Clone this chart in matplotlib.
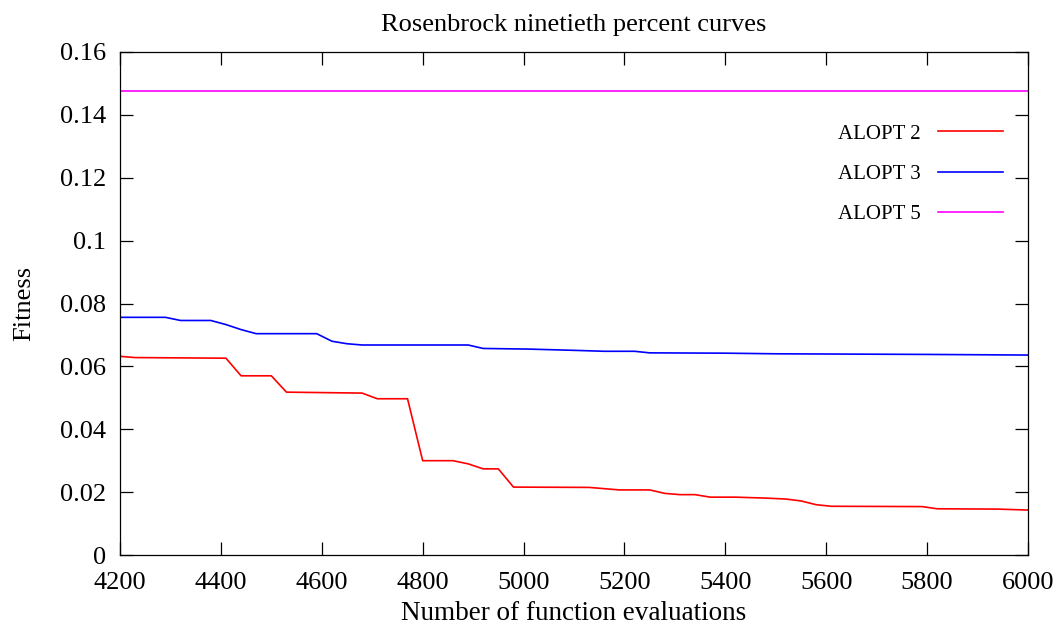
import matplotlib
matplotlib.use("Agg")
import matplotlib.pyplot as plt

# ALOPT 2 (red)
x_alopt2 = [4200, 4230, 4410, 4440, 4500, 4530, 4680, 4710, 4770, 4800, 4860, 4890,
            4920, 4950, 4980, 5130, 5190, 5250, 5280, 5310, 5340, 5370, 5420, 5480,
            5520, 5550, 5580, 5610, 5790, 5820, 5940, 6000]
y_alopt2 = [0.0632, 0.0628, 0.0626, 0.0570, 0.0570, 0.0518, 0.0515, 0.0497, 0.0497,
            0.0300, 0.0300, 0.0290, 0.0274, 0.0274, 0.0216, 0.0215, 0.0207, 0.0207,
            0.0196, 0.0192, 0.0192, 0.0184, 0.0184, 0.0181, 0.0178, 0.0172, 0.0160,
            0.0155, 0.0154, 0.0147, 0.0146, 0.0143]

# ALOPT 3 (blue)
x_alopt3 = [4200, 4290, 4320, 4380, 4410, 4440, 4470, 4590, 4620, 4650, 4680, 4890,
            4920, 5010, 5100, 5160, 5220, 5250, 5400, 5500, 5800, 6000]
y_alopt3 = [0.0756, 0.0756, 0.0746, 0.0746, 0.0733, 0.0717, 0.0704, 0.0704, 0.0680,
            0.0672, 0.0668, 0.0668, 0.0657, 0.0655, 0.0651, 0.0648, 0.0648, 0.0643,
            0.0642, 0.0640, 0.0638, 0.0636]

# ALOPT 5 (magenta), flat
x_alopt5 = [4200, 6000]
y_alopt5 = [0.1475, 0.1475]

x_ticks = [4200, 4400, 4600, 4800, 5000, 5200, 5400, 5600, 5800, 6000]
y_ticks = [0, 0.02, 0.04, 0.06, 0.08, 0.1, 0.12, 0.14, 0.16]
y_ticklabels = ["0", "0.02", "0.04", "0.06", "0.08", "0.1", "0.12", "0.14", "0.16"]

plt.rcParams["font.family"] = ["Liberation Serif", "DejaVu Serif"]

W, H = 1061, 627
fig = plt.figure(figsize=(W / 100, H / 100), dpi=100)
ax = fig.add_axes([120 / W, (H - 555) / H, 908 / W, 503 / H])

ax.plot(x_alopt2, y_alopt2, color="#ff0000", lw=1.2, label="ALOPT 2")
ax.plot(x_alopt3, y_alopt3, color="#0000ff", lw=1.2, label="ALOPT 3")
ax.plot(x_alopt5, y_alopt5, color="#ff00ff", lw=1.2, label="ALOPT 5")

ax.set_xlim(4200, 6000)
ax.set_ylim(0, 0.16)
ax.set_xticks(x_ticks)
ax.set_yticks(y_ticks)
ax.set_yticklabels(y_ticklabels)
ax.tick_params(direction="in", length=9.5, width=0.9, top=True, right=True,
               labelsize=19)
ax.tick_params(axis="x", pad=12)
ax.tick_params(axis="y", pad=10)
for s in ax.spines.values():
    s.set_linewidth(0.9)

ax.set_title("Rosenbrock ninetieth percent curves", fontsize=19, pad=15)
ax.set_xlabel("Number of function evaluations", fontsize=19.5, labelpad=5)
ax.set_ylabel("Fitness", fontsize=19, labelpad=18)

ax.legend(loc="upper right", bbox_to_anchor=(1003 / W, (H - 124) / H),
          bbox_transform=fig.transFigure, frameon=False, markerfirst=False,
          fontsize=15, handlelength=3.1, labelspacing=1.0, handletextpad=0.85,
          borderpad=0, borderaxespad=0)

fig.savefig("out.png", dpi=100)
